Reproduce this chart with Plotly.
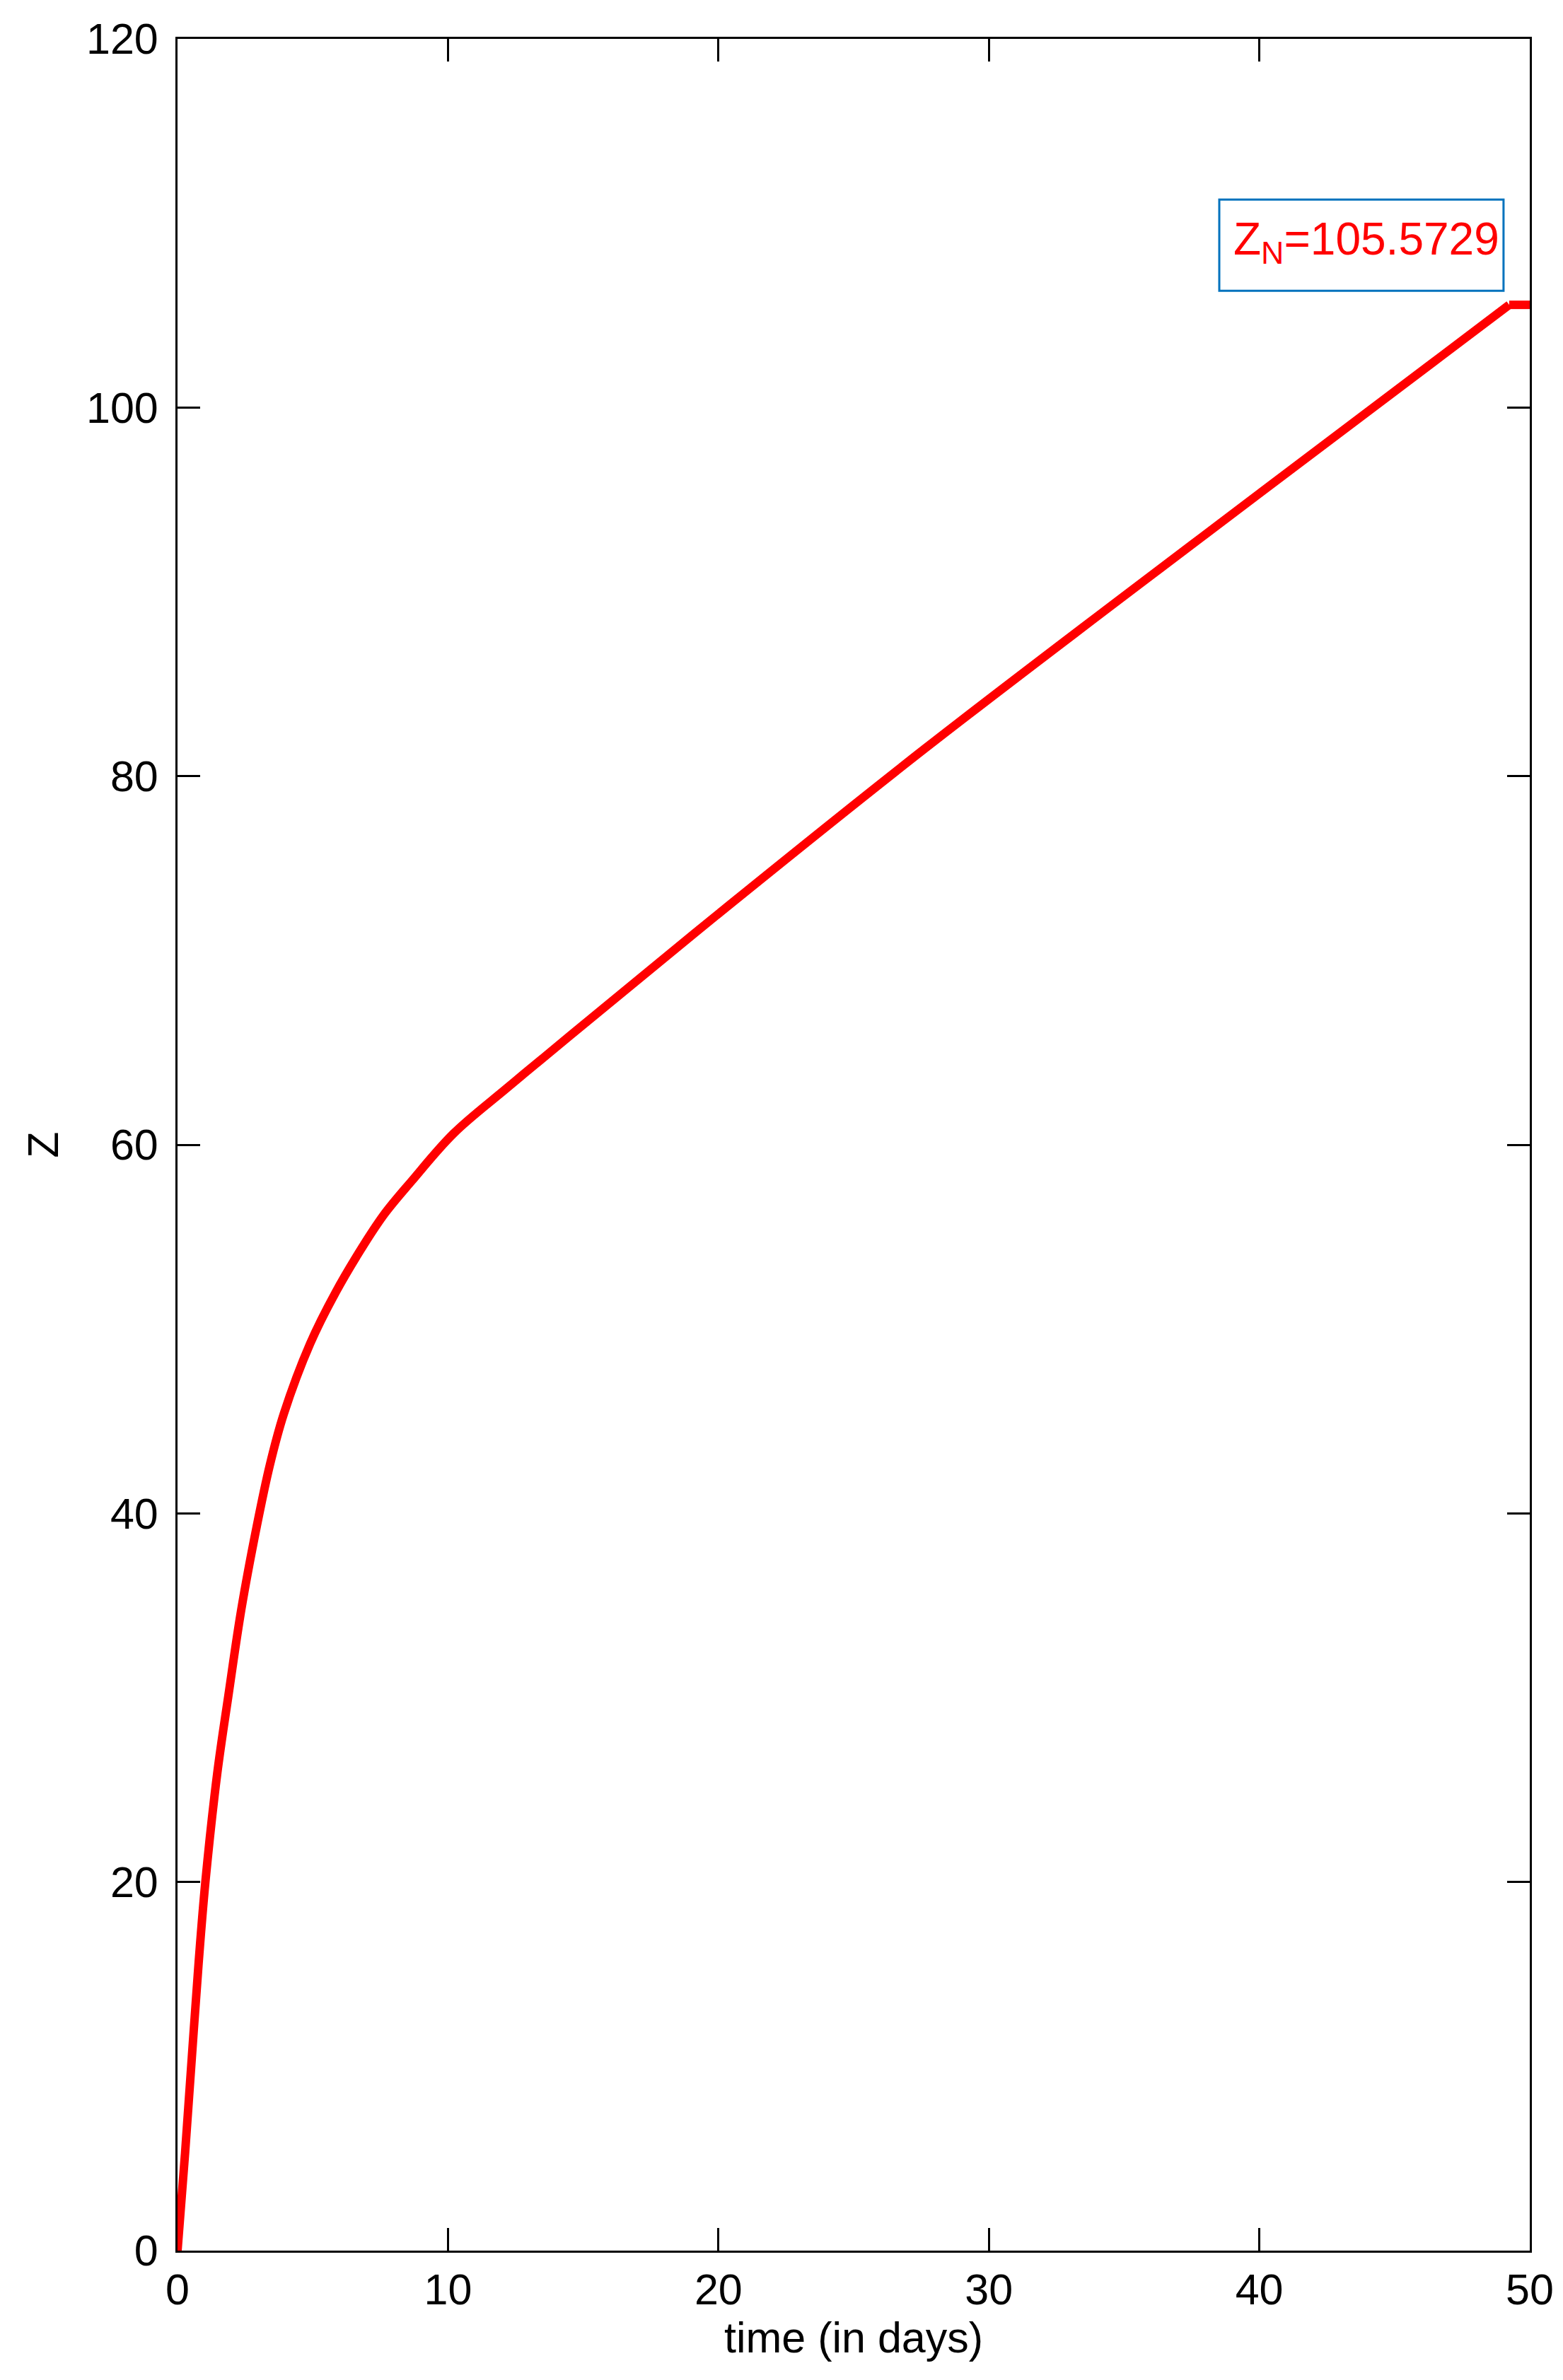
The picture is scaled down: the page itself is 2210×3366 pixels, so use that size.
import plotly.graph_objects as go

# time (days) and Z
t_days = [0, 0.28, 0.53, 0.78, 1.03, 1.47, 1.88, 2.36, 2.93, 3.41, 3.93, 4.9,
          5.85, 6.9, 7.68, 8.64, 10.2, 12.2, 14.5, 20.06, 27.64, 38.44, 49.24]
z_vals = [0, 5.3, 10.5, 15.6, 20.0, 25.9, 30.1, 34.8, 39.3, 42.6, 45.4, 49.2,
          52.0, 54.6, 56.3, 58.0, 60.6, 63.1, 65.9, 72.6, 81.5, 93.6, 105.57]

# plateau after the last step
t_flat = [49.24, 50]
z_flat = [105.57, 105.57]

z_final = 105.5729
x_ticks = [0, 10, 20, 30, 40, 50]
y_ticks = [0, 20, 40, 60, 80, 100, 120]

font_family = "Liberation Sans, Arial, sans-serif"

fig = go.Figure()
fig.add_trace(go.Scatter(
    x=t_days, y=z_vals, mode="lines",
    line=dict(color="#ff0000", width=12, shape="spline", smoothing=1.0),
    showlegend=False, hoverinfo="skip",
))
fig.add_trace(go.Scatter(
    x=t_flat, y=z_flat, mode="lines",
    line=dict(color="#ff0000", width=12),
    showlegend=False, hoverinfo="skip",
))

# label box (text overflows the box on the right, as in the original)
fig.add_shape(type="rect", x0=38.52, x1=49.03, y0=106.33, y1=111.28,
              xref="x", yref="y", line=dict(color="#0072bd", width=3))
fig.add_annotation(
    x=39.0, y=109.0, xref="x", yref="y", xanchor="left", yanchor="middle",
    text="Z<sub>N</sub>=%.4f" % z_final, showarrow=False,
    font=dict(family=font_family, size=64, color="#ff0000"),
)

axis_common = dict(
    showgrid=False, zeroline=False,
    showline=True, linecolor="black", linewidth=3,
    mirror="ticks", ticks="inside", ticklen=32, tickwidth=3, tickcolor="black",
    tickfont=dict(family=font_family, size=61, color="black"),
)

fig.update_xaxes(
    range=[0, 50], tickvals=x_ticks, ticklabelstandoff=0,
    title=dict(text="time (in days)", font=dict(family=font_family, size=61, color="black"), standoff=0),
    **axis_common,
)
fig.update_yaxes(
    range=[0, 120], tickvals=y_ticks, ticklabelstandoff=12,
    title=dict(text="Z", font=dict(family=font_family, size=61, color="black"), standoff=20),
    **axis_common,
)

fig.update_layout(
    width=2210, height=3366,
    margin=dict(l=243, r=55, t=47, b=191),
    paper_bgcolor="white", plot_bgcolor="white",
)

fig.write_html("out.html")
